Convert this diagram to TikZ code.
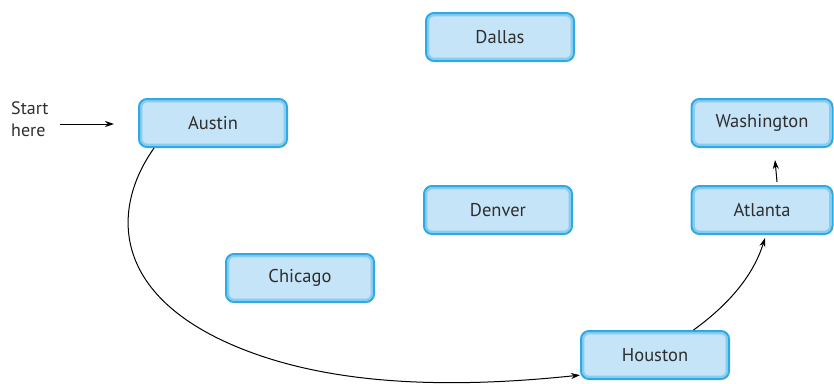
\documentclass[tikz,border=0pt]{standalone}
\usepackage{fontspec}
\setmainfont{PT Sans}
\usetikzlibrary{arrows.meta}
\definecolor{boxfill}{HTML}{C6E4F8}
\definecolor{boxedge}{HTML}{2EA9E3}
\definecolor{boxglow}{HTML}{86CDF1}
\definecolor{txt}{HTML}{2E2E2E}
\tikzset{
  city/.style={rounded corners=8pt, fill=boxfill, draw=boxedge, line width=2pt,
    minimum width=148pt, minimum height=48pt, font=\fontsize{18.5}{22}\selectfont, text=txt,
    path picture={\draw[boxglow, line width=2.2pt, rounded corners=6pt]
      ([shift={(2.2pt,-2.2pt)}]path picture bounding box.north west) rectangle
      ([shift={(-2.2pt,2.2pt)}]path picture bounding box.south east);}},
  arr/.style={-{Stealth[length=9pt,width=6pt]}, line width=1pt, black},
}
\begin{document}
\begin{tikzpicture}[x=1pt,y=-1pt]
\useasboundingbox (0,0) rectangle (834,383);
\node[city] (dallas) at (500,37) {Dallas};
\node[city] (austin) at (213,123) {Austin};
\node[city, minimum width=141pt] (washington) at (762,123) {Washington};
\node[city] (denver) at (498,210) {Denver};
\node[city, minimum width=141pt] (atlanta) at (762,210) {Atlanta};
\node[city] (chicago) at (300,278) {Chicago};
\node[city] (houston) at (655,355) {Houston};
\node[align=left, anchor=north west, inner sep=0pt, text=txt,
  font=\fontsize{18}{22}\selectfont] (start) at (11,101) {Start\\here};
\coordinate (s0) at (60,124);
\coordinate (s1) at (114,124);
\draw[arr] (s0) -- (s1);
\draw[arr] (austin.203) .. controls (110,210) and (110,300) .. (250,352)
  .. controls (320,378) and (420,392) .. (houston.195);
\draw[arr] (houston.33) .. controls (735,300) and (755,270) .. ([xshift=3pt,yshift=-3pt]atlanta.south);
\draw[arr] ([xshift=15pt,yshift=3pt]atlanta.north) -- ([xshift=13pt,yshift=-12pt]washington.south);
\end{tikzpicture}
\end{document}
